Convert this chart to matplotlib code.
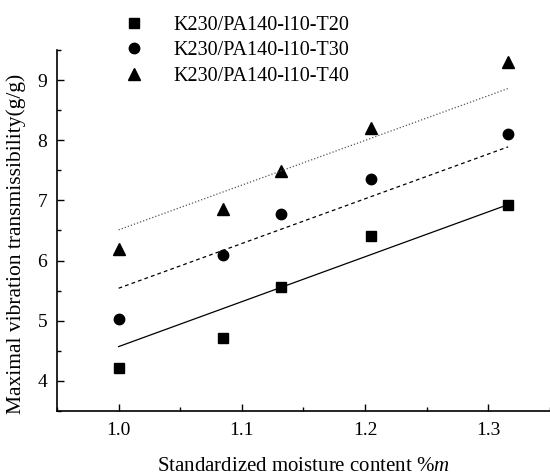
import matplotlib
matplotlib.use("Agg")
import matplotlib.pyplot as plt
from matplotlib.ticker import MultipleLocator

plt.rcParams['font.family'] = ['Liberation Serif', 'DejaVu Serif']
plt.rcParams['mathtext.fontset'] = 'custom'
plt.rcParams['mathtext.it'] = 'Liberation Serif:italic'
plt.rcParams['mathtext.rm'] = 'Liberation Serif'

x = [1.0, 1.085, 1.132, 1.205, 1.316]
t20 = [4.22, 4.72, 5.56, 6.40, 6.93]
t30 = [5.03, 6.09, 6.77, 7.36, 8.10]
t40 = [6.20, 6.86, 7.49, 8.21, 9.30]
labels = ["K230/PA140-l10-T20", "K230/PA140-l10-T30", "K230/PA140-l10-T40"]

fit_x = [1.0, 1.316]
fit_t20 = [4.57, 6.93]
fit_t30 = [5.54, 7.89]
fit_t40 = [6.51, 8.86]

fig = plt.figure(figsize=(5.5, 4.76), dpi=100)
ax = fig.add_axes([0.1036, 0.1366, 0.8964, 0.7584])

h1, = ax.plot(x, t20, 's', color='black', markersize=6.5, linestyle='none')
h2, = ax.plot(x, t30, 'o', color='black', markersize=7.5, linestyle='none')
h3, = ax.plot(x, t40, '^', color='black', markersize=8, linestyle='none')

ax.plot(fit_x, fit_t20, '-', color='black', lw=0.9)
ax.plot(fit_x, fit_t30, color='black', lw=0.9, dashes=(3, 2.5))
ax.plot(fit_x, fit_t40, color='#555555', lw=0.9, dashes=(1, 1.6))

ax.set_xlim(0.95, 1.35)
ax.set_ylim(3.5, 9.5)
ax.xaxis.set_major_locator(MultipleLocator(0.1))
ax.xaxis.set_minor_locator(MultipleLocator(0.05))
ax.yaxis.set_major_locator(MultipleLocator(1))
ax.yaxis.set_minor_locator(MultipleLocator(0.5))
ax.tick_params(which='both', direction='in', width=1, labelsize=14)
ax.tick_params(which='major', length=5)
ax.tick_params(which='minor', length=3)
ax.tick_params(axis='x', which='major', pad=8)
ax.tick_params(axis='y', which='major', pad=7)
ax.spines['top'].set_visible(False)
ax.spines['right'].set_visible(False)
ax.spines['left'].set_linewidth(1.2)
ax.spines['bottom'].set_linewidth(1.2)

ax.set_xlabel("Standardized moisture content %$m$", fontsize=15, labelpad=13)
ax.set_ylabel("Maximal vibration transmissibility(g/g)", fontsize=15.5)
ax.yaxis.set_label_coords(-0.062, 0.462)

fig.legend([h1, h2, h3], labels, loc='upper left', bbox_to_anchor=(0.19, 0.995),
           frameon=False, fontsize=14.5, handletextpad=1.15, labelspacing=0.32,
           borderaxespad=0.25, handlelength=1.6)

fig.savefig("out.png", dpi=100)
